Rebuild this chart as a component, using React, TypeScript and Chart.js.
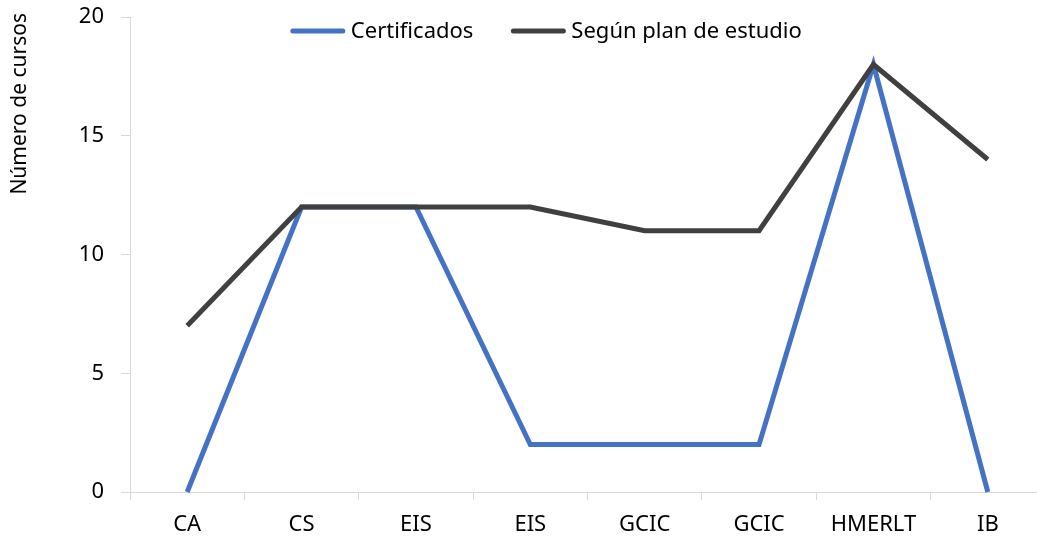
import React, { useEffect, useRef } from "react";
import { Chart, registerables } from "chart.js";

Chart.register(...registerables);

const categories = ["CA", "CS", "EIS", "EIS", "GCIC", "GCIC", "HMERLT", "IB"];
const certificados = [0, 12, 12, 2, 2, 2, 18, 0];
const segunPlan = [7, 12, 12, 12, 11, 11, 18, 14];
const yTicks = [0, 5, 10, 15, 20];
const seriesNames = ["Certificados", "Según plan de estudio"];
const seriesColors = ["#4472C4", "#404040"];
const yTitle = "Número de cursos";

const FONT = "'Noto Sans', 'Open Sans', sans-serif";
const FS = 22;
const TITLE_FS = 21;
const AXIS = "#d9d9d9";

const legendPlugin = {
  id: "customLegend",
  afterDraw(chart: any) {
    const ctx = chart.ctx;
    const area = chart.chartArea;
    ctx.save();
    ctx.font = `${FS}px ${FONT}`;
    ctx.textBaseline = "middle";
    const lineW = 54;
    const gap = 6;
    const itemGap = 38;
    const widths = seriesNames.map((n) => lineW + gap + ctx.measureText(n).width);
    const total = widths.reduce((a, b) => a + b, 0) + itemGap * (widths.length - 1);
    const cx = area.left + (area.right - area.left) * 0.455;
    let x = cx - total / 2;
    const y = area.top + 14;
    seriesNames.forEach((n, i) => {
      ctx.strokeStyle = seriesColors[i];
      ctx.lineWidth = 5;
      ctx.lineCap = "round";
      ctx.beginPath();
      ctx.moveTo(x + 2, y);
      ctx.lineTo(x + lineW - 2, y);
      ctx.stroke();
      ctx.fillStyle = "#000";
      ctx.fillText(n, x + lineW + gap, y + 1);
      x += widths[i] + itemGap;
    });
    // y axis title
    ctx.font = `${TITLE_FS}px ${FONT}`;
    ctx.translate(20, area.top - 4);
    ctx.rotate(-Math.PI / 2);
    ctx.textAlign = "right";
    ctx.textBaseline = "middle";
    ctx.fillText(yTitle, 0, 0);
    ctx.restore();
  },
};

export default function App() {
  const ref = useRef<HTMLCanvasElement | null>(null);
  useEffect(() => {
    if (!ref.current) return;
    const chart = new Chart(ref.current, {
      type: "line",
      data: {
        labels: categories,
        datasets: [
          {
            label: seriesNames[0],
            data: certificados,
            borderColor: seriesColors[0],
            backgroundColor: seriesColors[0],
            borderWidth: 5,
            pointRadius: 0,
            tension: 0,
            clip: false as any,
            order: 1,
          },
          {
            label: seriesNames[1],
            data: segunPlan,
            borderColor: seriesColors[1],
            backgroundColor: seriesColors[1],
            borderWidth: 5,
            pointRadius: 0,
            tension: 0,
            clip: false as any,
            order: 0,
          },
        ],
      },
      options: {
        responsive: false,
        animation: false,
        layout: { padding: { top: 17, right: 0, left: 0, bottom: 0 } },
        plugins: {
          legend: { display: false },
          tooltip: { enabled: false },
        },
        scales: {
          x: {
            offset: true,
            afterFit: (axis: any) => {
              axis.height = 50;
              axis.paddingLeft = 0;
              axis.paddingRight = 0;
            },
            border: { color: AXIS, width: 1 },
            grid: {
              offset: true,
              drawOnChartArea: false,
              drawTicks: true,
              tickLength: 8,
              color: AXIS,
            },
            ticks: {
              color: "#000",
              font: { family: FONT, size: FS },
              padding: 12,
              maxRotation: 0,
              autoSkip: false,
            },
          },
          y: {
            min: 0,
            max: 20,
            afterBuildTicks: (axis: any) => {
              axis.ticks = yTicks.map((v) => ({ value: v }));
            },
            afterFit: (axis: any) => {
              axis.width = 130;
              axis.paddingTop = 0;
              axis.paddingBottom = 0;
            },
            border: { color: AXIS, width: 1 },
            grid: {
              drawOnChartArea: false,
              drawTicks: true,
              tickLength: 9,
              color: AXIS,
            },
            ticks: {
              color: "#000",
              font: { family: FONT, size: FS },
              padding: 17,
            },
          },
        },
      },
      plugins: [legendPlugin],
    });
    return () => chart.destroy();
  }, []);
  return (
    <div
      style={{
        position: "fixed",
        left: 0,
        top: 0,
        width: 1037,
        height: 542,
        overflow: "hidden",
        background: "#fff",
      }}
    >
      <canvas ref={ref} width={1045} height={542} style={{ display: "block" }} />
    </div>
  );
}
